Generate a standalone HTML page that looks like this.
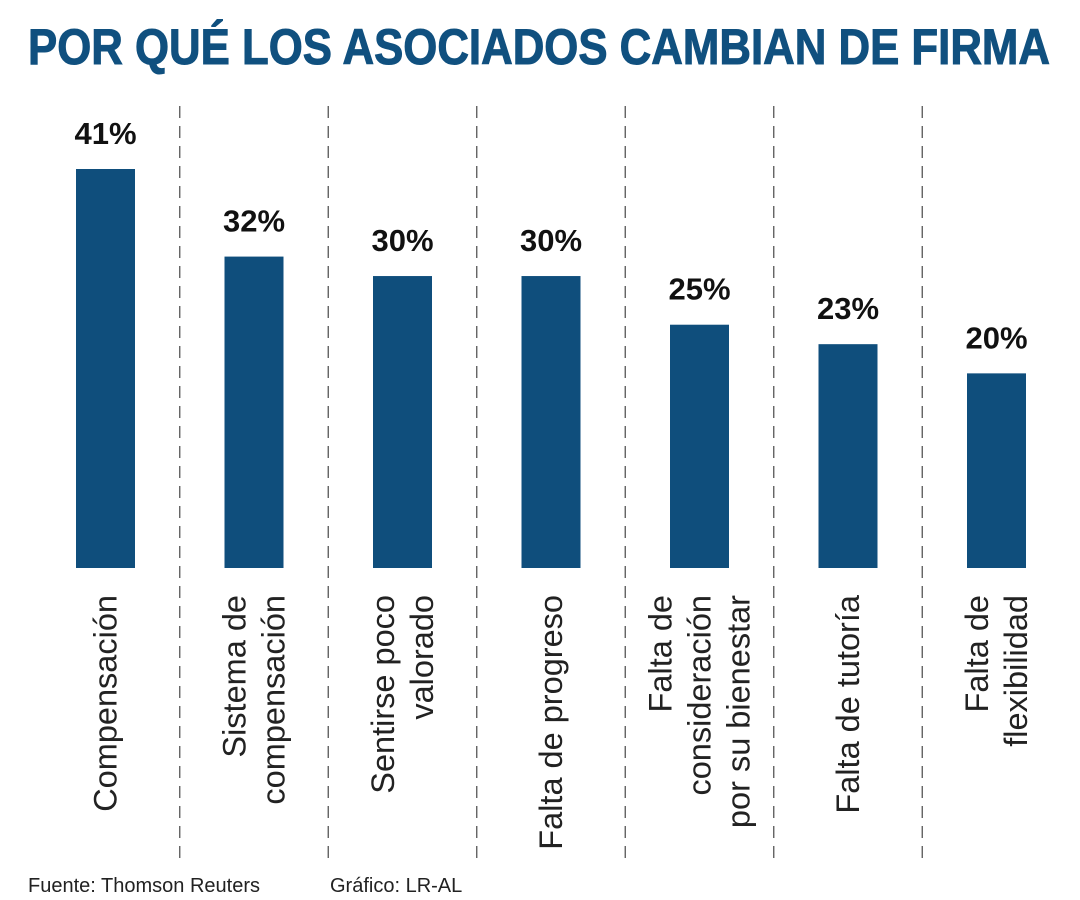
<!DOCTYPE html>
<html><head><meta charset="utf-8"><style>
html,body{margin:0;padding:0;background:#fff;width:1080px;height:900px;overflow:hidden}
svg{display:block}
</style></head><body>
<svg id="chart" width="1080" height="900" xmlns="http://www.w3.org/2000/svg">
<text x="28" y="64" font-family="Liberation Sans, sans-serif" font-weight="bold" font-size="50" fill="#10507f" stroke="#10507f" stroke-width="1" textLength="1022" lengthAdjust="spacingAndGlyphs">POR QUÉ LOS ASOCIADOS CAMBIAN DE FIRMA</text>
<g id="grid"></g><g id="bars"></g><g id="vals"></g><g id="labels"></g>
<text x="28" y="892" font-family="Liberation Sans, sans-serif" font-size="20" fill="#222">Fuente: Thomson Reuters</text>
<text x="330" y="892" font-family="Liberation Sans, sans-serif" font-size="20" fill="#222">Gráfico: LR-AL</text>
</svg>
<script>
const categories=[["Compensación"],["Sistema de","compensación"],["Sentirse poco","valorado"],["Falta de progreso"],["Falta de","consideración","por su bienestar"],["Falta de tutoría"],["Falta de","flexibilidad"]];
const values=[41,32,30,30,25,23,20];
const valueLabels=["41%","32%","30%","30%","25%","23%","20%"];
const NS="http://www.w3.org/2000/svg";
const base=568, perUnit=399/41, x0=105.5, step=148.5, bw=59;
const xc=i=>x0+i*step;
const y=v=>base-v*perUnit;
function mk(t,a,p){const e=document.createElementNS(NS,t);for(const k in a)e.setAttribute(k,a[k]);document.getElementById(p).appendChild(e);return e;}
for(let i=0;i<categories.length-1;i++){
 const l=mk('line',{x1:xc(i)+step/2,x2:xc(i)+step/2,y1:106,y2:858,stroke:'#555','stroke-width':1.3,'stroke-dasharray':'12 8'},'grid');
 
 
}
values.forEach((v,i)=>{
 const r=mk('rect',{x:xc(i)-bw/2,y:y(v),width:bw,height:base-y(v),fill:'#0f4e7c'},'bars');
 
 
 const t=mk('text',{x:xc(i),y:y(v)-25,'text-anchor':'middle','font-family':'Liberation Sans, sans-serif','font-weight':'bold','font-size':31,fill:'#111'},'vals');
 t.textContent=valueLabels[i];
 
 
 const lines=categories[i], n=lines.length, lh=39;
 lines.forEach((s,j)=>{
  const lx=xc(i)+(j-(n-1)/2)*lh+11;
  const tt=mk('text',{x:lx,y:595,transform:`rotate(-90 ${lx} 595)`,'text-anchor':'end','font-family':'Liberation Sans, sans-serif','font-size':32.5,fill:'#222'},'labels');
  tt.textContent=s;
  
  
 });
});
</script>
</body></html>
